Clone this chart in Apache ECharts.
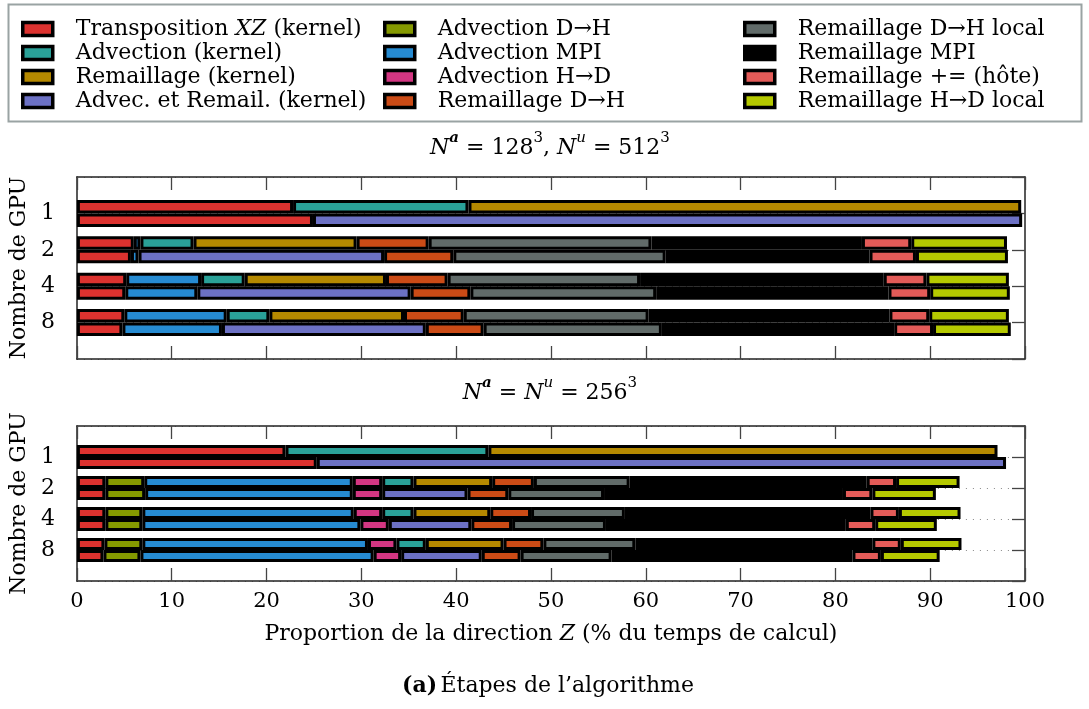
<!DOCTYPE html>
<html>
<head>
<meta charset="utf-8">
<script src="https://cdn.jsdelivr.net/npm/echarts@6/dist/echarts.min.js"></script>
<style>
html, body { margin: 0; padding: 0; background: #fff; }
#main { width: 1089px; height: 709px; }
</style>
</head>
<body>
<div id="main"></div>
<script>
// nombre de GPU (axe des catégories)
var gpuCounts = ['1', '2', '4', '8'];

// étapes, dans l'ordre d'empilement
var stepsSplit = ['Transposition XZ (kernel)', 'Advection D→H', 'Advection MPI', 'Advection H→D',
  'Advection (kernel)', 'Remaillage (kernel)', 'Remaillage D→H', 'Remaillage D→H local',
  'Remaillage MPI', 'Remaillage += (hôte)', 'Remaillage H→D local'];
var stepsFused = ['Transposition XZ (kernel)', 'Advection D→H', 'Advection MPI', 'Advection H→D',
  'Advec. et Remail. (kernel)', 'Remaillage D→H', 'Remaillage D→H local',
  'Remaillage MPI', 'Remaillage += (hôte)', 'Remaillage H→D local'];

// N^a = 128^3, N^u = 512^3  (% du temps de la direction Z)
var topSplit1 = [22.8, 0, 0, 0, 18.5, 58.3, 0, 0, 0, 0, 0];
var topSplit2 = [6.0, 0, 0.7, 0, 5.6, 17.2, 7.6, 23.5, 22.2, 5.2, 10.1];
var topSplit4 = [5.2, 0, 7.9, 0, 4.6, 14.9, 6.5, 20.3, 25.7, 4.5, 8.7];
var topSplit8 = [5.0, 0, 10.8, 0, 4.5, 14.2, 6.3, 19.5, 25.4, 4.2, 8.4];
var topFused1 = [24.9, 0, 0, 0, 74.8, 0, 0, 0, 0, 0];
var topFused2 = [5.7, 0, 0.8, 0, 25.9, 7.3, 22.4, 21.5, 4.9, 9.7];
var topFused4 = [5.1, 0, 7.6, 0, 22.5, 6.3, 19.6, 24.5, 4.4, 8.4];
var topFused8 = [4.8, 0, 10.5, 0, 21.5, 6.1, 18.8, 24.5, 4.1, 8.2];

// N^a = N^u = 256^3
var botSplit1 = [22.0, 0, 0, 0, 21.4, 53.7, 0, 0, 0, 0, 0];
var botSplit2 = [3.0, 4.1, 22.0, 3.1, 3.3, 8.3, 4.4, 10.1, 25.0, 3.1, 6.7];
var botSplit4 = [3.0, 3.9, 22.3, 3.0, 3.3, 8.1, 4.3, 9.9, 25.9, 3.0, 6.5];
var botSplit8 = [2.9, 4.0, 23.8, 3.0, 3.1, 8.2, 4.2, 9.7, 25.0, 3.0, 6.4];
var botFused1 = [25.3, 0, 0, 0, 72.7, 0, 0, 0, 0, 0];
var botFused2 = [3.0, 4.2, 21.9, 3.1, 9.0, 4.3, 10.1, 25.2, 3.1, 6.7];
var botFused4 = [3.0, 3.9, 23.0, 3.0, 8.7, 4.3, 9.9, 25.3, 3.1, 6.5];
var botFused8 = [2.8, 3.9, 24.6, 2.9, 8.5, 4.1, 9.6, 25.4, 3.0, 6.2];

var xTicks = [0, 10, 20, 30, 40, 50, 60, 70, 80, 90, 100];

var colors = {
  'Transposition XZ (kernel)': '#dc322f',
  'Advection (kernel)': '#2aa198',
  'Remaillage (kernel)': '#b58900',
  'Advec. et Remail. (kernel)': '#6c71c4',
  'Advection D→H': '#859900',
  'Advection MPI': '#268bd2',
  'Advection H→D': '#d33682',
  'Remaillage D→H': '#cb4b16',
  'Remaillage D→H local': '#616b69',
  'Remaillage MPI': '#000000',
  'Remaillage += (hôte)': '#e35b58',
  'Remaillage H→D local': '#b5c900'
};

var FONT = 'DejaVu Serif';
var FS = 22;

var legendCols = [
  ['Transposition XZ (kernel)', 'Advection (kernel)', 'Remaillage (kernel)', 'Advec. et Remail. (kernel)'],
  ['Advection D→H', 'Advection MPI', 'Advection H→D', 'Remaillage D→H'],
  ['Remaillage D→H local', 'Remaillage MPI', 'Remaillage += (hôte)', 'Remaillage H→D local']
];
var legendLeft = [16, 378, 738];

// catégories avec une place vide en haut et en bas
var yCats = [''].concat(gpuCounts, ['']);

function makeSeries(g, splitRows, fusedRows, bw) {
  var out = [];
  [[stepsSplit, splitRows, 'split'], [stepsFused, fusedRows, 'fused']].forEach(function (s) {
    s[0].forEach(function (name, i) {
      var d = s[1].map(function (r) { return r[i] === 0 ? '-' : r[i]; });
      out.push({
        type: 'bar', name: name, stack: s[2] + g,
        xAxisIndex: g * 2, yAxisIndex: g * 2,
        barWidth: bw, barGap: '0%',
        itemStyle: { color: colors[name], borderColor: '#000', borderWidth: 3 },
        emphasis: { disabled: true },
        data: ['-'].concat(d, ['-'])
      });
    });
  });
  return out;
}

var grids = [
  { left: 76, top: 177, width: 949, height: 182 },
  { left: 76, top: 426, width: 949, height: 155 }
];

var frameLine = { show: true, onZero: false, lineStyle: { color: '#222', width: 1.5 } };
var xAxes = [], yAxes = [];
grids.forEach(function (gr, g) {
  ['bottom', 'top'].forEach(function (pos) {
    var labelled = g === 1 && pos === 'bottom';
    xAxes.push({
      type: 'value', gridIndex: g, position: pos, min: 0, max: 100, interval: 10,
      axisLine: frameLine,
      axisTick: { show: true, inside: true, length: 13, lineStyle: { color: '#444', width: 1.3 } },
      axisLabel: {
        show: labelled, margin: 10, color: '#000',
        fontFamily: FONT, fontSize: 21,
        formatter: function (v) { return xTicks.indexOf(v) >= 0 ? String(v) : ''; }
      },
      splitLine: { show: false },
      name: labelled ? 'Proportion de la direction {i|Z} (% du temps de calcul)' : '',
      nameLocation: 'middle', nameGap: 42,
      nameTextStyle: { color: '#000', fontFamily: FONT, fontSize: FS,
        rich: { i: { fontFamily: FONT, fontSize: FS, fontStyle: 'italic', color: '#000' } } }
    });
  });
  yAxes.push({
    type: 'category', gridIndex: g, position: 'left', data: yCats, inverse: true, boundaryGap: false,
    axisLine: frameLine,
    axisTick: { show: false },
    axisLabel: { interval: 0, margin: 22, color: '#000', fontFamily: FONT, fontSize: FS },
    splitLine: { show: false },
    name: 'Nombre de GPU', nameLocation: 'middle', nameRotate: 90, nameGap: 42,
    nameTextStyle: { color: '#000', fontFamily: FONT, fontSize: FS }
  });
  yAxes.push({
    type: 'category', gridIndex: g, position: 'right', data: yCats, inverse: true, boundaryGap: false,
    axisLine: frameLine,
    axisTick: { show: true, inside: true, length: 13, interval: 0, lineStyle: { color: '#444', width: 1.3 } },
    axisLabel: { show: false },
    splitLine: { show: true, interval: 0, lineStyle: { color: '#888', type: [1, 6], width: 1.2 } }
  });
});

var series = []
  .concat(makeSeries(0, [topSplit1, topSplit2, topSplit4, topSplit8], [topFused1, topFused2, topFused4, topFused8], 13.5))
  .concat(makeSeries(1, [botSplit1, botSplit2, botSplit4, botSplit8], [botFused1, botFused2, botFused4, botFused8], 12));

var legends = legendCols.map(function (col, k) {
  return {
    data: col, orient: 'vertical', left: legendLeft[k], top: 12,
    icon: 'rect', itemWidth: 30, itemHeight: 13, itemGap: 0,
    itemStyle: { borderColor: '#000', borderWidth: 3.5 },
    selectedMode: false,
    formatter: function (n) { return n.replace('XZ', '{i|XZ}'); },
    textStyle: {
      color: '#000', fontFamily: FONT, fontSize: FS, lineHeight: 24, padding: [0, 0, 0, 18],
      rich: { i: { fontFamily: FONT, fontSize: FS, fontStyle: 'italic', lineHeight: 24 } }
    }
  };
});

var rich = {
  r: { fontFamily: FONT, fontSize: FS, lineHeight: 28, verticalAlign: 'bottom', fill: '#000' },
  i: { fontFamily: FONT, fontSize: FS, fontStyle: 'italic', lineHeight: 28, verticalAlign: 'bottom', fill: '#000' },
  s: { fontFamily: FONT, fontSize: 15, lineHeight: 18, verticalAlign: 'top', fill: '#000' },
  si: { fontFamily: FONT, fontSize: 15, fontStyle: 'italic', lineHeight: 18, verticalAlign: 'top', fill: '#000' },
  sb: { fontFamily: FONT, fontSize: 15, fontStyle: 'italic', fontWeight: 'bold', lineHeight: 18, verticalAlign: 'top', fill: '#000' },
  b: { fontFamily: FONT, fontSize: FS, fontWeight: 'bold', fill: '#000' },
  c: { fontFamily: FONT, fontSize: FS, fill: '#000' }
};

var chart = echarts.init(document.getElementById('main'));
chart.setOption({
  animation: false,
  backgroundColor: '#fff',
  grid: grids,
  xAxis: xAxes,
  yAxis: yAxes,
  legend: legends,
  series: series,
  graphic: [
    { type: 'rect', z: -1, shape: { x: 8.5, y: 4.5, width: 1073, height: 117 },
      style: { fill: '#fff', stroke: '#9aa3a3', lineWidth: 2 } },
    { type: 'text', x: 550, y: 145, style: {
        text: '{i|N}{sb|a}{r| = 128}{s|3}{r|, }{i|N}{si|u}{r| = 512}{s|3}',
        rich: rich, align: 'center', verticalAlign: 'middle' } },
    { type: 'text', x: 550, y: 390, style: {
        text: '{i|N}{sb|a}{r| = }{i|N}{si|u}{r| = 256}{s|3}',
        rich: rich, align: 'center', verticalAlign: 'middle' } },
    { type: 'text', x: 548, y: 686, style: {
        text: '{b|(a)} {c|Étapes de l’algorithme}',
        rich: rich, align: 'center', verticalAlign: 'middle' } }
  ]
});
</script>
</body>
</html>
